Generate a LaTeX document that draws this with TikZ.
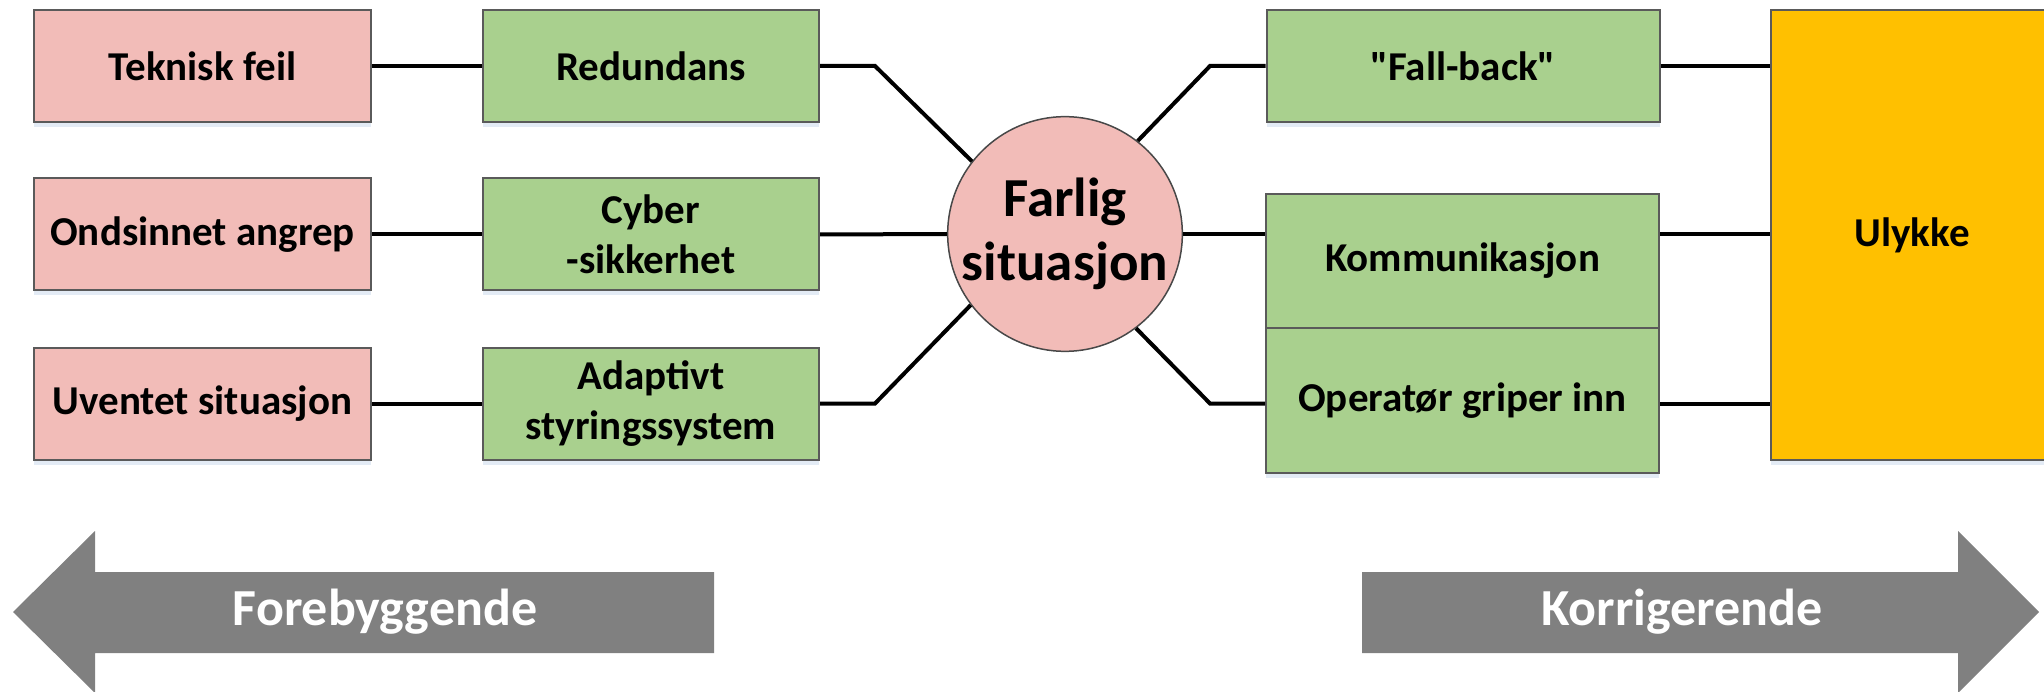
\documentclass[tikz,border=0pt]{standalone}
\usepackage{fontspec}
\setmainfont{Carlito}[Ligatures=TeXOff]
\usetikzlibrary{shadows}
\definecolor{riskpink}{HTML}{F2BCB8}
\definecolor{barrgreen}{HTML}{A9D08E}
\definecolor{accgold}{HTML}{FFC000}
\definecolor{edgegray}{HTML}{5A5A5A}
\definecolor{arrowgray}{HTML}{808080}
\definecolor{shadowblue}{HTML}{DCE6F2}
\tikzset{
  box/.style={draw=edgegray, line width=2pt, inner sep=0pt, align=center,
    font=\fontsize{41}{50}\selectfont\bfseries,
    drop shadow={shadow xshift=0pt, shadow yshift=-5pt, fill=shadowblue, opacity=0.8}},
  cause/.style={box, fill=riskpink, minimum width=337pt, minimum height=112pt},
  barrier/.style={box, fill=barrgreen, minimum width=336pt, minimum height=112pt},
  rbarrier/.style={box, fill=barrgreen, minimum width=393pt},
  hazard/.style={circle, draw=edgegray!80!black, line width=1.5pt, fill=riskpink,
    minimum size=224pt, inner sep=0pt, align=center,
    font=\fontsize{55}{64}\selectfont\bfseries},
  conn/.style={draw=black, line width=4pt},
  bigarrow/.style={fill=arrowgray, draw=none},
  arrowlabel/.style={text=white, font=\fontsize{52}{60}\selectfont\bfseries}
}
\begin{document}
\begin{tikzpicture}[x=1pt, y=-1pt]
\useasboundingbox (0,0) rectangle (2044,692);
\clip (0,0) rectangle (2044,692);

% causes
\node[cause] (tek) at (202.5,66) {Teknisk feil};
\node[cause] (ond) at (202.5,234.5) {Ondsinnet angrep};
\node[cause] (uve) at (202.5,403.5) {Uventet situasjon};

% preventive barriers
\node[barrier] (red) at (651,66) {Redundans};
\node[barrier] (cyb) at (651,234.5) {Cyber\\-sikkerhet};
\node[barrier] (ada) at (651,403.5) {Adaptivt\\styringssystem};

% hazardous event
\node[hazard] (far) at (1065,234) {Farlig\\situasjon};

% corrective barriers
\node[rbarrier, minimum height=112pt] (fal) at (1463,66) {"Fall-back"};
\node[rbarrier, minimum height=134pt] (kom) at (1462.5,261) {Kommunikasjon};
\node[rbarrier, minimum height=145pt] (ope) at (1462.5,400.5) {Operatør griper inn};

% consequence
\node[box, fill=accgold, minimum width=282pt, minimum height=450pt] (uly) at (1912,235) {Ulykke};

% bends
\coordinate (b1) at (875,66);
\coordinate (b2) at (875,403.5);
\coordinate (b3) at (1210,66);
\coordinate (b4) at (1210,403.5);

% left connectors
\draw[conn] (tek) -- (red);
\draw[conn] (ond) -- (cyb);
\draw[conn] (uve) -- (ada);
\draw[conn] (red.east) -- (b1) -- (far.142.5);
\draw[conn] (cyb.east) -- (far.west);
\draw[conn] (ada.east) -- (b2) -- (far.217.5);

% right connectors
\draw[conn] (far.52) -- (b3) -- (fal.west);
\draw[conn] (far.east) -- (far.east -| kom.west);
\draw[conn] (far.307) -- (b4) -- (b4 -| ope.west);
\draw[conn] (fal.east) -- (fal.east -| uly.west);
\draw[conn] (far.east -| kom.east) -- (far.east -| uly.west);
\draw[conn] (b4 -| ope.east) -- (b4 -| uly.west);

% direction arrows
\path[bigarrow] (13,612) -- (95,531) -- (95,572) -- (714,572) -- (714,653) -- (95,653) -- (95,693) -- cycle;
\path[bigarrow] (2039,612) -- (1958,531) -- (1958,572) -- (1362,572) -- (1362,653) -- (1958,653) -- (1958,693) -- cycle;
\node[arrowlabel] (fore) at (385,612) {Forebyggende};
\node[arrowlabel] (korr) at (1682,612) {Korrigerende};
\end{tikzpicture}
\end{document}
